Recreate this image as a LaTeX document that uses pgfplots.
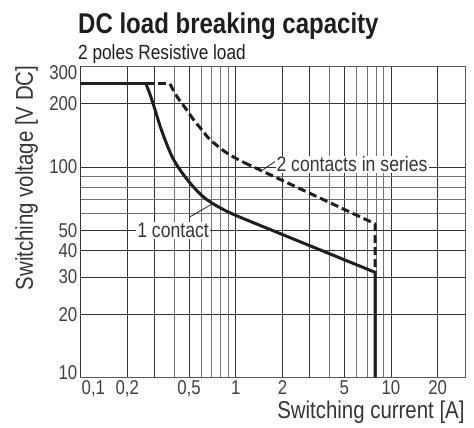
\documentclass[border=0pt]{standalone}
\usepackage{pgfplots}
\pgfplotsset{compat=1.18}
\usepackage{fontspec}
\setmainfont{Liberation Sans}[FakeStretch=0.84]
\definecolor{txt}{HTML}{1E1E1E}
\begin{document}
\begin{tikzpicture}
\path[use as bounding box] (-80.5pt,-50.5pt) rectangle (393.5pt,377.5pt);
\begin{axis}[
  at={(0pt,0pt)}, anchor=south west,
  scale only axis, width=384.5pt, height=311pt,
  xmode=log, ymode=log,
  xmin=0.1, xmax=30, ymin=10, ymax=300,
  axis line style={black!65, line width=0.8pt},
  major tick length=0pt, minor tick length=0pt,
  xtick={0.2,0.3,0.5,1,2,3,5,10,20},
  xticklabels={{0,2},{},{0,5},1,2,{},5,10,20},
  minor xtick={0.4,0.6,0.7,0.8,0.9,4,6,7,8,9},
  extra x ticks={0.1},
  extra x tick labels={\mbox{0,1}},
  extra x tick style={xticklabel style={anchor=base west, xshift=1pt}},
  ytick={10,20,30,40,50,100,200,300},
  yticklabels={\raisebox{-1.6pt}[0pt][0pt]{10},20,30,40,50,100,200,\raisebox{-12.6pt}[0pt][0pt]{300}},
  minor ytick={60,70,80,90},
  grid=both,
  major grid style={black!80, line width=0.7pt},
  minor grid style={black!55, line width=0.7pt},
  tick label style={font=\fontsize{20}{22}\selectfont, text=txt!85},
  xticklabel style={anchor=base, inner sep=0pt, yshift=-17.5pt},
  yticklabel style={anchor=east, inner sep=0pt, xshift=-3pt},
  clip=false,
]
% 1 contact
\addplot[txt, line width=3pt] coordinates {(0.1,248) (0.264,248)};
\addplot[txt, line width=3pt, smooth, tension=0.55] coordinates {
 (0.264,248) (0.28,222) (0.3,190) (0.327,155) (0.36,128) (0.399,108)
 (0.46,92) (0.537,80) (0.62,72) (0.724,66.5) (0.9,61) (1.13,56.7)};
\addplot[txt, line width=3pt, line join=round] coordinates {
 (1.13,56.7) (7.9,31.6) (7.9,10)};
% 2 contacts in series
\addplot[txt, line width=3pt, dash pattern=on 8pt off 4pt] coordinates {
 (0.264,248) (0.377,248)};
\addplot[txt, line width=3pt, smooth, tension=0.5, dash pattern=on 8pt off 4pt] coordinates {
 (0.377,248) (0.42,215) (0.475,190) (0.537,167) (0.61,149) (0.689,134)
 (0.884,116) (1.13,105)};
\addplot[txt, line width=3pt, line join=round, dash pattern=on 8pt off 4pt] coordinates {
 (1.13,105) (7.9,53.7) (7.9,31.6)};
% labels
\draw[txt, line width=0.8pt] (axis cs:0.508,58) -- (axis cs:0.70,66.5);
\node[anchor=west, fill=white, inner sep=1pt, text=txt!90,
      font=\fontsize{21}{23}\selectfont] at (axis cs:0.228,50) {1 contact};
\draw[txt, line width=0.8pt] (axis cs:1.79,106) -- (axis cs:1.5,97);
\node[anchor=west, fill=white, inner sep=1pt, text=txt!90,
      font=\fontsize{21}{23}\selectfont] at (axis cs:1.80,103) {2 contacts in series};
\end{axis}
\node[anchor=base west, inner sep=0pt, text=txt] at (-2.5pt,344.2pt)
  {\fontsize{28.6}{30}\selectfont\bfseries DC load breaking capacity};
\node[anchor=base west, inner sep=0pt, text=txt] at (-2.5pt,317.5pt)
  {\fontsize{20.5}{22}\selectfont 2 poles Resistive load};
\node[anchor=base east, inner sep=0pt, text=txt!90] at (384.2pt,-41.5pt)
  {\fontsize{24.3}{26}\selectfont Switching current [A]};
\node[anchor=base, rotate=90, inner sep=0pt, text=txt!90] at (-47.5pt,199.5pt)
  {\fontsize{24.3}{26}\selectfont Switching voltage [V DC]};
\end{tikzpicture}
\end{document}
